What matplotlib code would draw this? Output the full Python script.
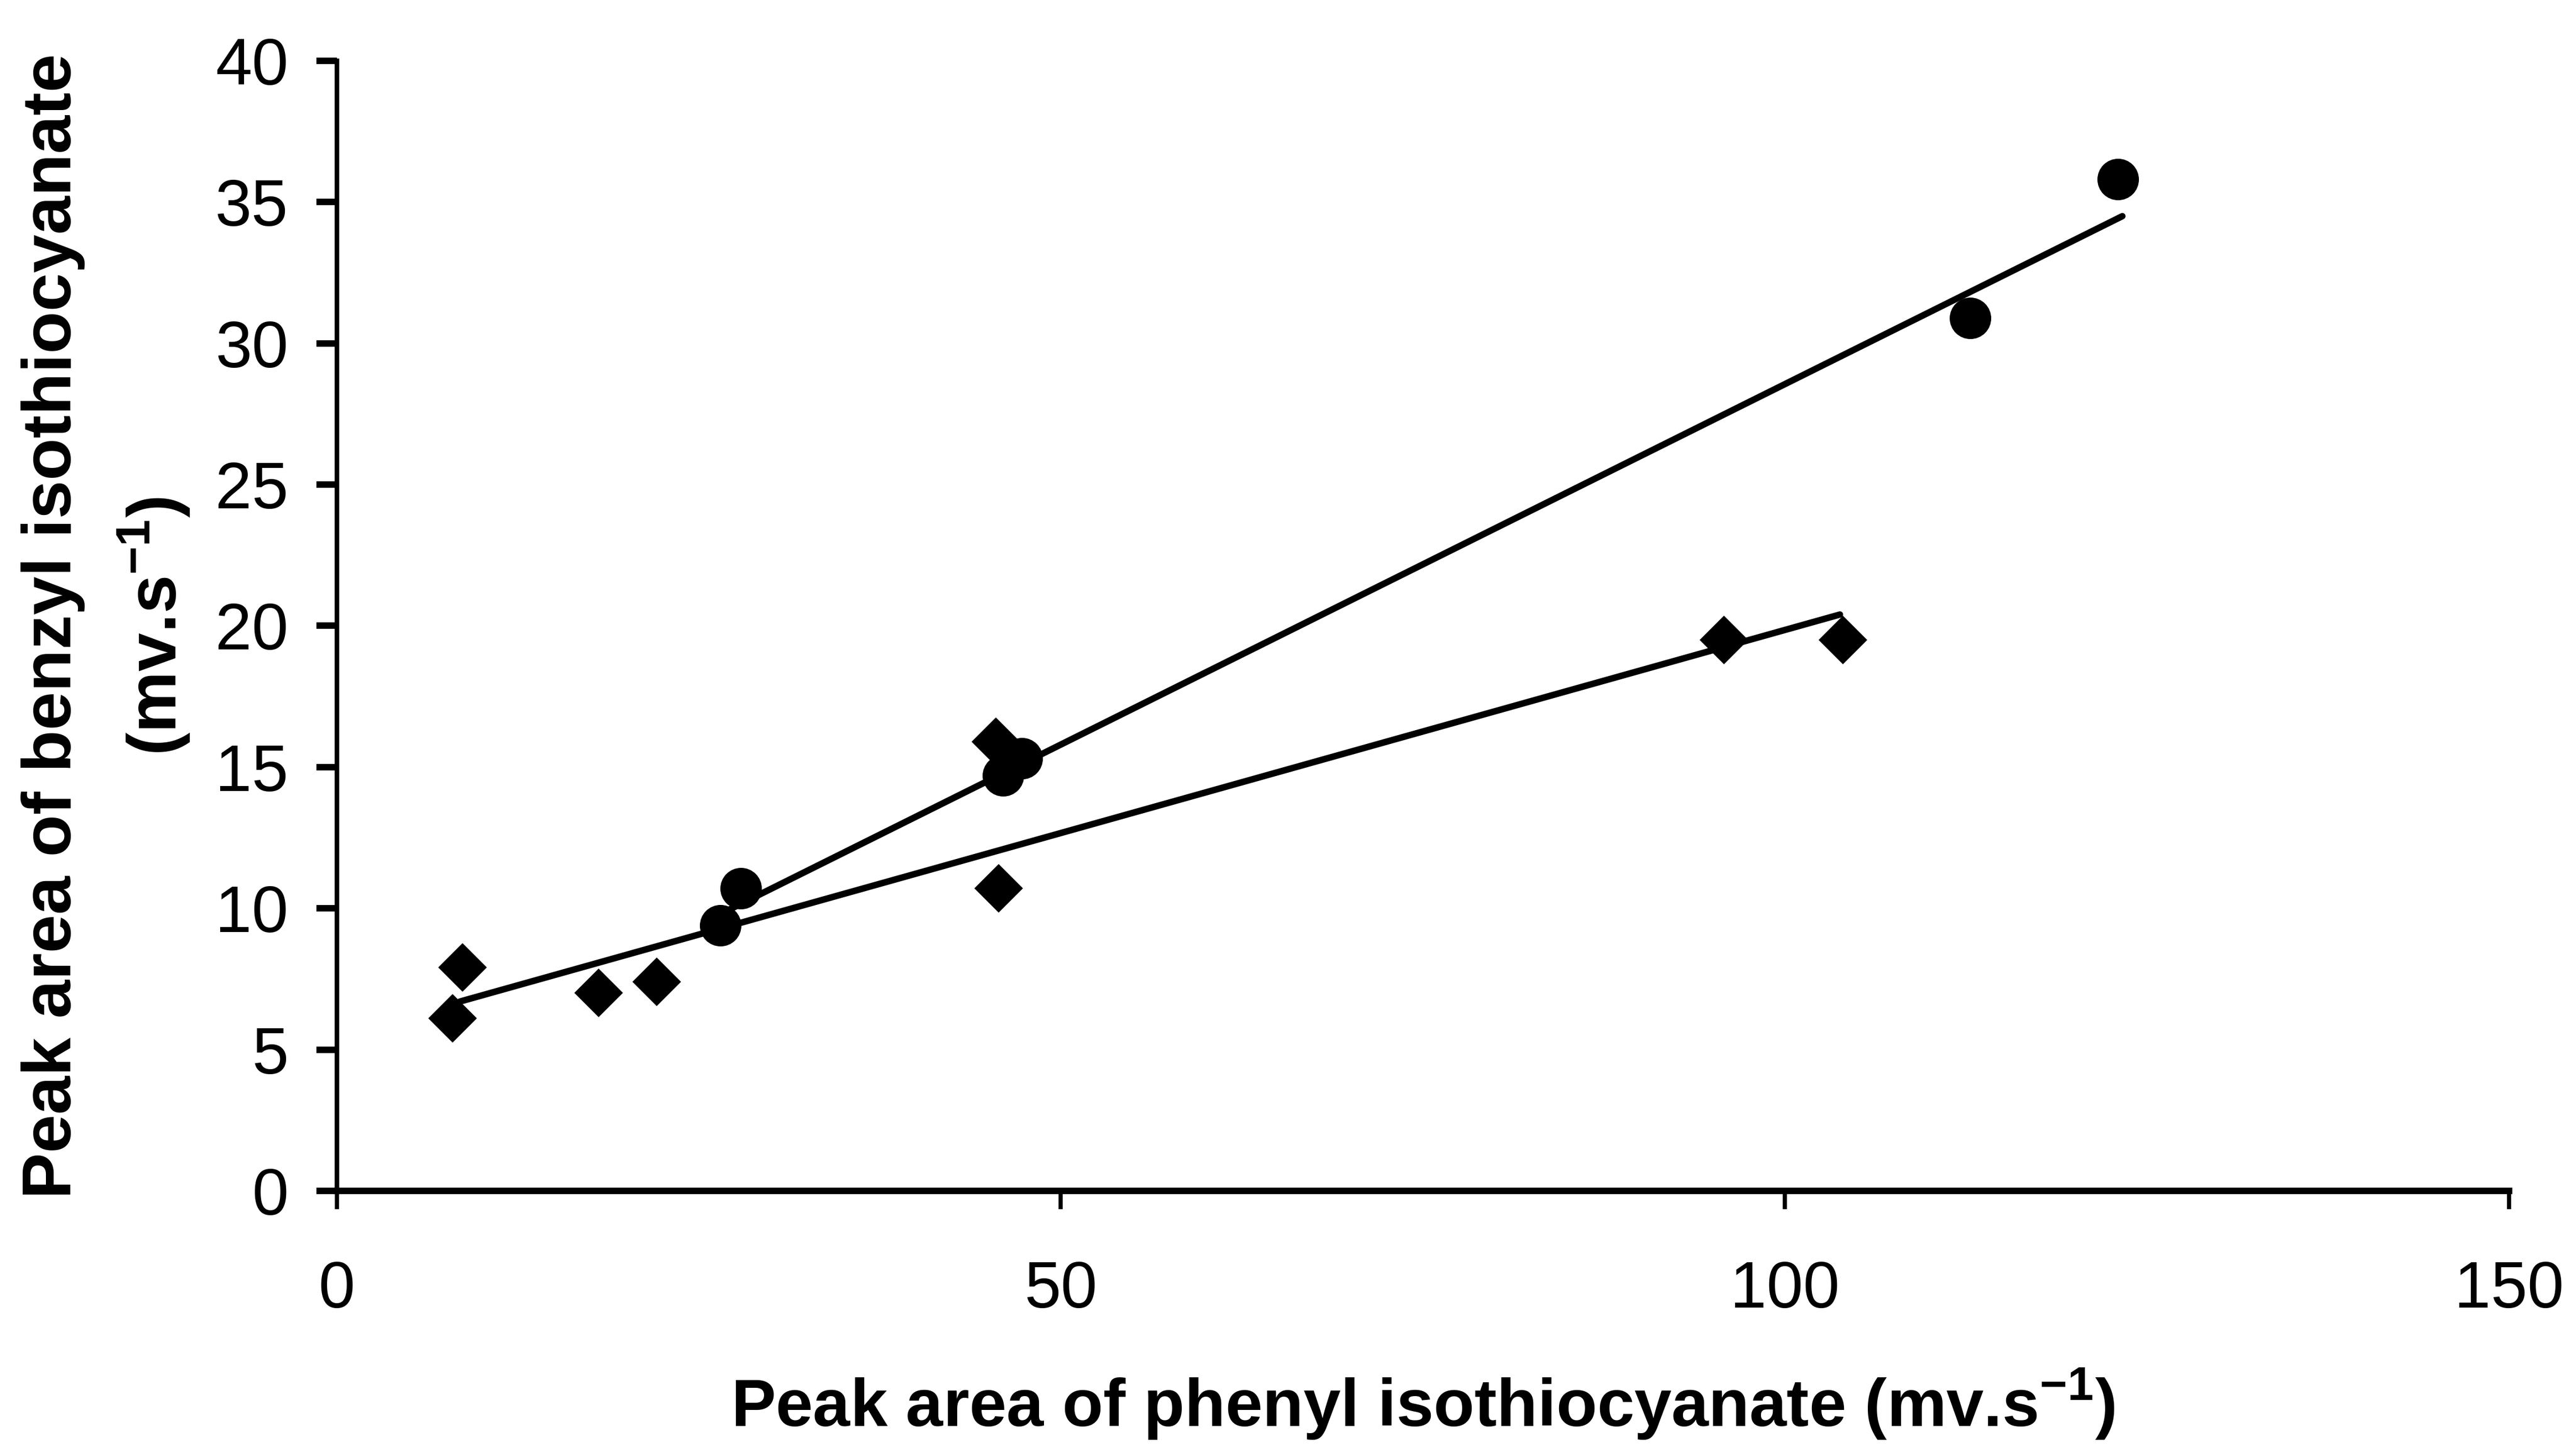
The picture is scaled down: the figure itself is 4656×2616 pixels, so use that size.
import matplotlib
matplotlib.use("Agg")
import matplotlib.pyplot as plt

plt.rcParams['font.family'] = ['Liberation Sans', 'DejaVu Sans']

# Diamond series
diamond_x = [8.0, 8.7, 18.1, 22.1, 45.5, 45.7, 95.8, 104.0]
diamond_y = [6.1, 7.9, 7.0, 7.4, 15.9, 10.7, 19.5, 19.5]
# Circle series
circle_x = [26.5, 27.9, 46.0, 47.3, 112.8, 123.0]
circle_y = [9.4, 10.7, 14.7, 15.3, 30.9, 35.8]
# Trend lines (end points)
trend_d_x = [8.5, 103.8]
trend_d_y = [6.7, 20.4]
trend_c_x = [26.5, 123.3]
trend_c_y = [9.8, 34.5]

x_ticks = [0, 50, 100, 150]
y_ticks = [0, 5, 10, 15, 20, 25, 30, 35, 40]

xlabel = r'Peak area of phenyl isothiocyanate (mv.s$^{\mathregular{-1}}$)'
ylabel = 'Peak area of benzyl isothiocyanate\n' + r'(mv.s$^{\mathregular{-1}}$)'

fig = plt.figure(figsize=(15.52, 8.72), dpi=300)
ax = fig.add_axes([0.1307, 0.177, 0.8433, 0.781])

ax.plot(trend_d_x, trend_d_y, color='black', lw=2.8, solid_capstyle='round', zorder=2)
ax.plot(trend_c_x, trend_c_y, color='black', lw=2.8, solid_capstyle='round', zorder=2)
ax.plot(diamond_x, diamond_y, linestyle='none', marker='D', markersize=14,
        color='black', zorder=3)
ax.plot(circle_x, circle_y, linestyle='none', marker='o', markersize=17,
        color='black', zorder=3)

ax.set_xlim(0, 150)
ax.set_ylim(0, 40)
ax.set_xticks(x_ticks)
ax.set_yticks(y_ticks)
ax.set_xticklabels([str(v) for v in x_ticks])
ax.set_yticklabels([str(v) for v in y_ticks])

for s in ['top', 'right']:
    ax.spines[s].set_visible(False)
ax.spines['bottom'].set_linewidth(2.8)
ax.spines['left'].set_linewidth(2.0)
ax.tick_params(axis='x', direction='out', length=8, width=1.8, pad=22, labelsize=28.5)
ax.tick_params(axis='y', direction='out', length=9, width=2.8, pad=12, labelsize=28.5)

ax.set_xlabel(xlabel, fontsize=29, fontweight='bold', labelpad=20)
ax.set_ylabel(ylabel, fontsize=30, fontweight='bold', labelpad=10, linespacing=1.5)

fig.savefig('out.png', dpi=300, facecolor='white')
